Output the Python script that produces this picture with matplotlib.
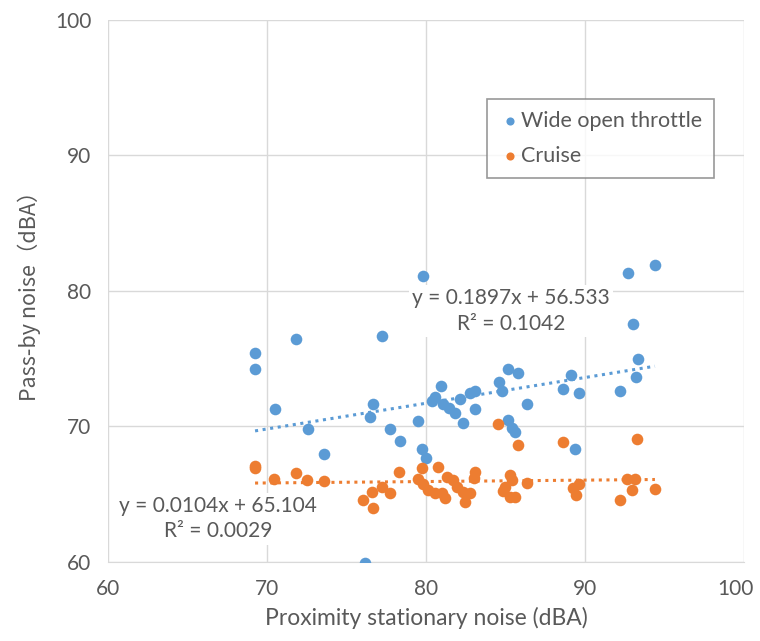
import matplotlib
matplotlib.use("Agg")
import matplotlib.pyplot as plt
import matplotlib.transforms as mtransforms
import numpy as np

# Wide open throttle: (proximity stationary, pass-by) in dBA
wot_x = [69.25, 69.25, 70.5, 71.8, 72.56, 73.6, 76.16, 77.23, 76.69, 76.48,
         77.74, 78.36, 79.79, 79.48, 79.73, 80.0, 80.94, 80.57, 80.4, 81.1,
         81.45, 81.8, 82.14, 82.35, 82.8, 83.1, 83.08, 84.61, 84.8, 85.18,
         85.8, 86.37, 85.18, 85.39, 85.6, 88.6, 89.12, 89.65, 89.37, 92.2,
         93.2, 93.35, 92.99, 92.68, 94.4]
wot_y = [75.38, 74.22, 71.27, 76.45, 69.8, 68.0, 59.95, 76.65, 71.69, 70.66,
         69.8, 68.92, 81.1, 70.39, 68.33, 67.64, 72.99, 72.18, 71.89, 71.69,
         71.35, 71.0, 71.99, 70.22, 72.45, 72.6, 71.27, 73.29, 72.6, 74.27,
         73.95, 71.64, 70.46, 69.85, 69.6, 72.75, 73.78, 72.48, 68.3, 72.62,
         73.61, 75.0, 77.59, 81.32, 81.88]

cru_x = [69.25, 69.25, 70.45, 71.8, 72.5, 73.6, 76.06, 76.58, 76.69, 77.25,
         77.74, 78.32, 79.48, 79.73, 79.83, 80.15, 80.57, 80.74, 81.02, 81.2,
         81.3, 81.72, 81.93, 82.35, 82.77, 82.45, 83.08, 83.02, 84.55, 85.8,
         85.28, 85.39, 84.97, 84.86, 85.28, 85.6, 86.37, 88.6, 89.65, 89.27,
         89.43, 92.66, 93.14, 92.93, 92.2, 93.3, 94.4]
cru_y = [67.1, 66.9, 66.1, 66.6, 66.04, 65.97, 64.57, 65.18, 63.96, 65.5,
         65.06, 66.65, 66.09, 66.9, 65.75, 65.31, 65.06, 66.98, 65.06, 64.69,
         66.29, 66.04, 65.55, 65.18, 65.06, 64.45, 66.65, 66.17, 70.17, 68.62,
         66.41, 66.04, 65.55, 65.25, 64.81, 64.81, 65.8, 68.87, 65.75, 65.43,
         64.94, 66.09, 66.09, 65.31, 64.57, 69.06, 65.36]

# linear trendlines as reported on the chart
wot_fit = (0.1897, 56.533, 0.1042)
cru_fit = (0.0104, 65.104, 0.0029)

BLUE, ORANGE, GREY = "#5B9BD5", "#ED7D31", "#595959"
plt.rcParams["font.family"] = ["Lato", "DejaVu Sans"]

fig = plt.figure(figsize=(7.6, 6.41), dpi=100)
ax = fig.add_axes([0.1421, 0.1232, 0.8368, 0.8462])

ax.scatter(wot_x, wot_y, s=70, color=BLUE, zorder=3, label="Wide open throttle", linewidths=0)
ax.scatter(cru_x, cru_y, s=70, color=ORANGE, zorder=3, label="Cruise", linewidths=0)

for xs, (m, b, _), c in [(wot_x, wot_fit, BLUE), (cru_x, cru_fit, ORANGE)]:
    xx = np.array([min(xs), max(xs)])
    ax.plot(xx, m * xx + b, ls=(0, (1, 1.5)), lw=2.2, color=c, zorder=2)

ax.set_xlim(60, 100); ax.set_ylim(60, 100)
ax.set_xticks(np.arange(60, 101, 10)); ax.set_yticks(np.arange(60, 101, 10))
ax.grid(True, color="#d9d9d9", lw=1, zorder=0)
for s in ("top", "right", "left"):
    ax.spines[s].set_visible(False)
ax.spines["bottom"].set_color("#d9d9d9")
ax.tick_params(length=0, labelsize=15, colors=GREY, pad=12)
# keep the last x label inside the canvas
last = ax.get_xticklabels()[-1]
last.set_transform(last.get_transform() +
                   mtransforms.ScaledTranslation(-6 / 72, 0, fig.dpi_scale_trans))
ax.set_xlabel("Proximity stationary noise (dBA)", fontsize=16.5, color=GREY, labelpad=6)
ax.set_ylabel("Pass-by noise（dBA）", fontsize=15.5, color=GREY, labelpad=10,
              family=["Noto Sans CJK SC", "DejaVu Sans"])

box = dict(boxstyle="square,pad=0.15", fc="white", ec="none")
ax.text(0.634, 0.463, f"y = {wot_fit[0]}x + {wot_fit[1]}\nR² = {wot_fit[2]}",
        transform=ax.transAxes, ha="center", va="center", fontsize=15, color=GREY,
        linespacing=1.35, bbox=box, zorder=4)
ax.text(0.173, 0.080, f"y = {cru_fit[0]}x + {cru_fit[1]}\nR² = {cru_fit[2]}",
        transform=ax.transAxes, ha="center", va="center", fontsize=15, color=GREY,
        linespacing=1.35, bbox=box, zorder=4)

leg = ax.legend(loc="upper left", bbox_to_anchor=(0.596, 0.8536), borderaxespad=0,
                fontsize=15.5, frameon=True, fancybox=False, handletextpad=0.05,
                handlelength=1.0, markerscale=0.7, labelspacing=0.7,
                borderpad=0.55)
leg.get_frame().set_edgecolor("#7f7f7f")
leg.get_frame().set_linewidth(1.2)
for t in leg.get_texts():
    t.set_color(GREY)

fig.savefig("out.png", dpi=100)
